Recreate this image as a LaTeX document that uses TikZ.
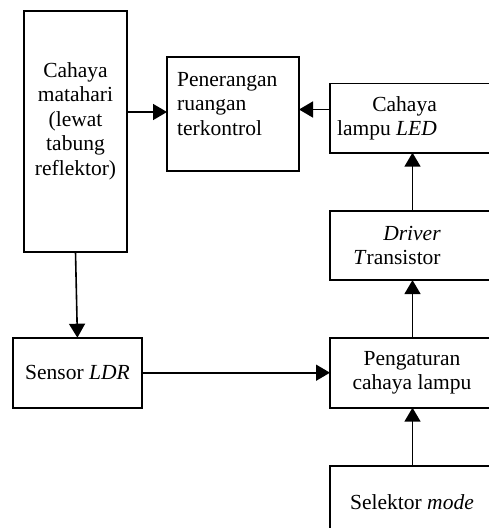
\documentclass[tikz,border=0pt]{standalone}
\usepackage{fontspec}
\setmainfont{Liberation Serif}
\usetikzlibrary{arrows.meta}
\begin{document}
\begin{tikzpicture}[x=1pt,y=-1pt,
  box/.style={draw,line width=1.6pt,inner sep=0pt,outer sep=0pt},
  txt/.style={inner sep=0pt,font=\fontsize{21.5}{24.5}\selectfont},
  arr/.style={line width=1.6pt,-{Triangle[length=14pt,width=16pt]}}]
\useasboundingbox (0,0) rectangle (489,528);
\clip (0,0) rectangle (489,528);
% boxes
\node[box,minimum width=103pt,minimum height=241pt] (sun) at (75.5,131.5) {};
\node[box,minimum width=132pt,minimum height=114pt] (pen) at (233,114.2) {};
\node[box,minimum width=165pt,minimum height=69.4pt] (led) at (412.5,118) {};
\node[box,minimum width=165pt,minimum height=69.4pt] (drv) at (412.5,245.4) {};
\node[box,minimum width=165pt,minimum height=70pt] (reg) at (412.5,372.7) {};
\node[box,minimum width=165pt,minimum height=70pt] (sel) at (412.5,500.7) {};
\node[box,minimum width=128.7pt,minimum height=70pt] (ldr) at (77.4,372.7) {};
% texts
\node[txt,align=center] (tsun) at (75.5,121) {Cahaya\\matahari\\(lewat\\tabung\\reflektor)};
\node[txt,align=left,anchor=west] (tpen) at (177,104) {Penerangan\\ruangan\\terkontrol};
\node[txt,align=right,anchor=east] (tled) at (437,118.5) {Cahaya\\lampu \textit{LED}};
\node[txt,align=center] (tdrv) at (397,245.5) {\hspace*{30pt}\textit{Driver}\\\textit{T}ransistor};
\node[txt,align=center] (treg) at (412,373) {Pengaturan\\cahaya lampu};
\node[txt] (tsel) at (412,502) {Selektor \textit{mode}};
\node[txt] (tldr) at (77.5,372) {Sensor \textit{LDR}};
% connectors
\coordinate (ya) at (0,112);
\coordinate (yb) at (0,109.5);
\draw[arr] (sun.east |- ya) -- (pen.west |- ya);
\draw[arr] (led.west |- yb) -- (pen.east |- yb);
\draw[arr] (sun.south) -- (ldr.north);
\draw[arr] (ldr.east) -- (reg.west);
\draw[arr] (reg.north) -- (drv.south);
\draw[arr] (drv.north) -- (led.south);
\draw[arr] (sel.north) -- (reg.south);
\end{tikzpicture}
\end{document}
